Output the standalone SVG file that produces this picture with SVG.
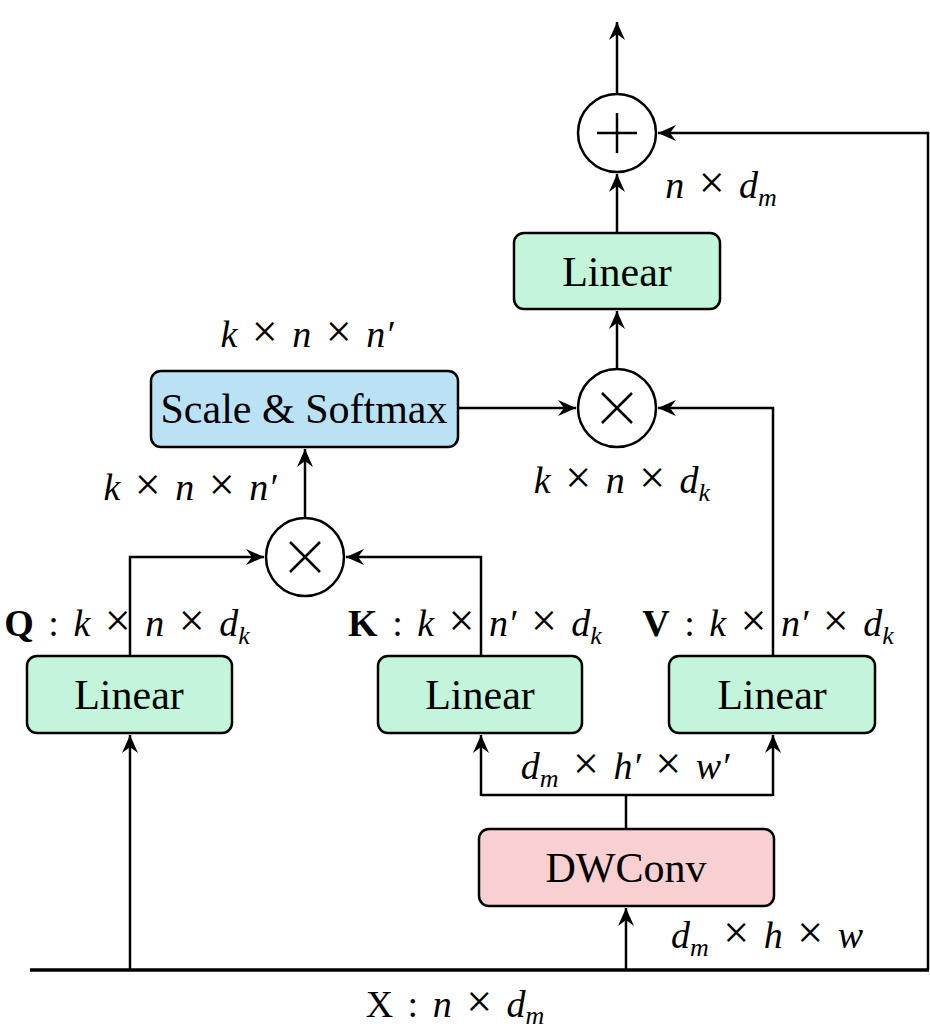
<svg xmlns="http://www.w3.org/2000/svg" width="930" height="1035" viewBox="0 0 930 1035">
<style>
.box{stroke:#000;stroke-width:2.5}
.g{fill:#c3f5da}
.b{fill:#bbe1f5}
.p{fill:#f9d0d1}
.bt{font-family:"Liberation Serif",serif;font-size:42px;text-anchor:middle;fill:#000}
.m{font-family:"Liberation Serif",serif;font-size:38px;font-style:italic;fill:#000;text-anchor:middle;word-spacing:5px}
.u{font-style:normal}
.x{font-style:normal;font-size:46px}
.s{font-size:26px}
.c{fill:#fff;stroke:#000;stroke-width:2.5}
.ln{fill:none;stroke:#000;stroke-width:2.5}
</style>
<defs>
<marker id="ar" markerUnits="userSpaceOnUse" markerWidth="24" markerHeight="20" viewBox="-20 -10 24 20" refX="0" refY="0" orient="auto">
<path d="M0,0 L-18,-8 L-12,0 L-18,8 Z" fill="#000"/>
</marker>
</defs>
<g id="connectors" class="ln">
<line x1="30" y1="970" x2="929" y2="970" style="stroke-width:3.5"/>
<polyline points="928,970 928,133 658,133" marker-end="url(#ar)"/>
<line x1="617" y1="94" x2="617" y2="22" marker-end="url(#ar)"/>
<line x1="617" y1="233" x2="617" y2="174" marker-end="url(#ar)"/>
<line x1="617" y1="369" x2="617" y2="311" marker-end="url(#ar)"/>
<line x1="458" y1="408" x2="576" y2="408" marker-end="url(#ar)"/>
<polyline points="773,657 773,408 658,408" marker-end="url(#ar)"/>
<line x1="305" y1="518" x2="305" y2="449" marker-end="url(#ar)"/>
<polyline points="130,657 130,557 264,557" marker-end="url(#ar)"/>
<polyline points="481,657 481,557 346,557" marker-end="url(#ar)"/>
<line x1="626" y1="829" x2="626" y2="795"/>
<polyline points="481,795 773,795"/>
<line x1="481" y1="796" x2="481" y2="735" marker-end="url(#ar)"/>
<line x1="773" y1="796" x2="773" y2="735" marker-end="url(#ar)"/>
<line x1="626" y1="970" x2="626" y2="908" marker-end="url(#ar)"/>
<line x1="130" y1="970" x2="130" y2="735" marker-end="url(#ar)"/>
</g>
<g id="add">
<circle class="c" cx="617" cy="133" r="39"/>
<path d="M597,133 H637 M617,113 V153" stroke="#000" stroke-width="2.5"/>
</g>
<g id="mul1">
<circle class="c" cx="617" cy="408" r="39"/>
<path d="M602,393 L632,423 M632,393 L602,423" stroke="#000" stroke-width="2.5"/>
</g>
<g id="mul2">
<circle class="c" cx="305" cy="557" r="39"/>
<path d="M290,542 L320,572 M320,542 L290,572" stroke="#000" stroke-width="2.5"/>
</g>
<g id="linear-out">
<rect class="box g" x="514" y="233" width="206" height="76" rx="10"/>
<text class="bt" x="617" y="286">Linear</text>
</g>
<g id="softmax">
<rect class="box b" x="151" y="371" width="307" height="76" rx="10"/>
<text class="bt" x="304" y="423">Scale &amp; Softmax</text>
</g>
<g id="linear-q">
<rect class="box g" x="27" y="656" width="205" height="77" rx="10"/>
<text class="bt" x="129" y="709">Linear</text>
</g>
<g id="linear-k">
<rect class="box g" x="378" y="656" width="204" height="77" rx="10"/>
<text class="bt" x="480" y="709">Linear</text>
</g>
<g id="linear-v">
<rect class="box g" x="669" y="656" width="206" height="77" rx="10"/>
<text class="bt" x="772" y="709">Linear</text>
</g>
<g id="dwconv">
<rect class="box p" x="479" y="829" width="295" height="77" rx="10"/>
<text class="bt" x="626" y="882">DWConv</text>
</g>
<g id="labels">
<text class="m" x="721" y="198">n <tspan class="x">×</tspan> d<tspan class="s" dy="8">m</tspan></text>
<text class="m" x="307" y="347">k <tspan class="x">×</tspan> n <tspan class="x">×</tspan> n′</text>
<text class="m" x="190" y="500">k <tspan class="x">×</tspan> n <tspan class="x">×</tspan> n′</text>
<text class="m" x="622" y="493">k <tspan class="x">×</tspan> n <tspan class="x">×</tspan> d<tspan class="s" dy="8">k</tspan></text>
<text class="m" x="127" y="636"><tspan class="u" font-weight="bold">Q</tspan><tspan class="u"> : </tspan>k <tspan class="x">×</tspan> n <tspan class="x">×</tspan> d<tspan class="s" dy="8">k</tspan></text>
<text class="m" x="475" y="636"><tspan class="u" font-weight="bold">K</tspan><tspan class="u"> : </tspan>k <tspan class="x">×</tspan> n′ <tspan class="x">×</tspan> d<tspan class="s" dy="8">k</tspan></text>
<text class="m" x="768" y="636"><tspan class="u" font-weight="bold">V</tspan><tspan class="u"> : </tspan>k <tspan class="x">×</tspan> n′ <tspan class="x">×</tspan> d<tspan class="s" dy="8">k</tspan></text>
<text class="m" x="625" y="779">d<tspan class="s" dy="8">m</tspan><tspan dy="-8"> </tspan><tspan class="x">×</tspan> h′ <tspan class="x">×</tspan> w′</text>
<text class="m" x="767" y="948">d<tspan class="s" dy="8">m</tspan><tspan dy="-8"> </tspan><tspan class="x">×</tspan> h <tspan class="x">×</tspan> w</text>
<text class="m" x="455" y="1017"><tspan class="u">X : </tspan>n <tspan class="x">×</tspan> d<tspan class="s" dy="7">m</tspan></text>
</g>
</svg>
